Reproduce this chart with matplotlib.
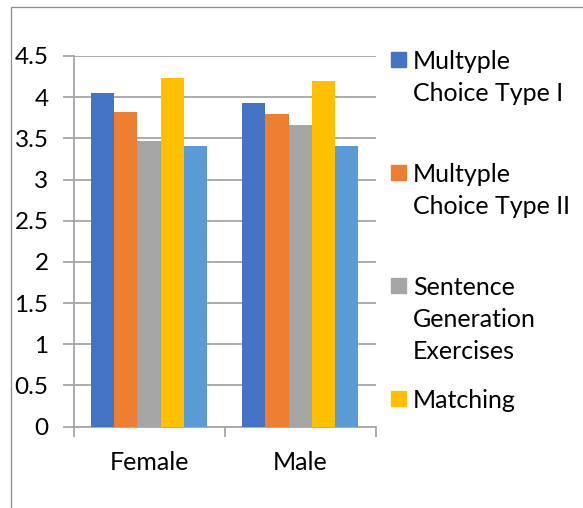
import matplotlib
matplotlib.use("Agg")
import matplotlib.pyplot as plt
from matplotlib.patches import Rectangle
import numpy as np

# Mean scores by gender for each exercise type
categories = ["Female", "Male"]
series_names = [
    "Multyple\nChoice Type I",
    "Multyple\nChoice Type II",
    "Sentence\nGeneration\nExercises",
    "Matching",
    "Other",
]
multiple_choice_1 = [4.05, 3.93]
multiple_choice_2 = [3.82, 3.80]
sentence_generation = [3.47, 3.66]
matching = [4.23, 4.20]
other = [3.41, 3.41]
series_values = [multiple_choice_1, multiple_choice_2, sentence_generation, matching, other]
colors = ["#4472C4", "#ED7D31", "#A5A5A5", "#FFC000", "#5B9BD5"]
y_ticks = [0, 0.5, 1, 1.5, 2, 2.5, 3, 3.5, 4, 4.5]
y_tick_labels = ["0", "0.5", "1", "1.5", "2", "2.5", "3", "3.5", "4", "4.5"]

W, H = 583, 508
fig = plt.figure(figsize=(W / 100, H / 100), dpi=100)
plt.rcParams["font.family"] = ["Lato", "DejaVu Sans"]

grid_col = "#A6A6A6"
fs = 18

# chart-area border (extends past the image on right and bottom)
fig.add_artist(Rectangle((11 / W, -0.1), 1.2, 1 - 7 / H + 0.1,
                         transform=fig.transFigure, fill=False,
                         edgecolor="#8C8C8C", linewidth=0.9))

ax = fig.add_axes([73.5 / W, 1 - 426.5 / H, (375.7 - 73.5) / W, (426.5 - 56) / H])

x = np.arange(len(categories))
n = len(series_values)
bw = 0.154
for i, (vals, col) in enumerate(zip(series_values, colors)):
    ax.bar(x + (i - (n - 1) / 2) * bw, vals, width=bw, color=col,
           zorder=3, linewidth=0)

ax.set_xlim(-0.5, len(categories) - 0.5)
ax.set_ylim(0, 4.5)
ax.set_yticks(y_ticks)
ax.set_yticklabels(y_tick_labels, fontsize=17.5)
ax.yaxis.grid(True, color=grid_col, linewidth=1.3, zorder=0)
ax.tick_params(axis="y", length=8, width=1.3, color=grid_col, pad=10)

# category labels centered, tick marks at category boundaries
ax.set_xticks(x)
ax.set_xticklabels(categories, fontsize=fs)
ax.tick_params(axis="x", length=0, pad=18)
ax.set_xticks(np.arange(-0.5, len(categories)), minor=True)
ax.tick_params(axis="x", which="minor", length=7, width=1.3, color=grid_col)

for s in ["top", "right"]:
    ax.spines[s].set_visible(False)
for s in ["left", "bottom"]:
    ax.spines[s].set_color(grid_col)
    ax.spines[s].set_linewidth(1.3)

# legend: fixed slots on the right, only the first four entries fit
slot_top = 52
slot_step = 113
line_step = 32
for i in range(4):
    top = slot_top + i * slot_step
    fig.add_artist(Rectangle((391 / W, 1 - (top + 15) / H), 15 / W, 15 / H,
                             transform=fig.transFigure, color=colors[i]))
    for k, line in enumerate(series_names[i].split("\n")):
        fig.text(413 / W, 1 - (top + 17 + k * line_step) / H, line,
                 fontsize=fs, ha="left", va="baseline")

fig.savefig("out.png", dpi=100)
